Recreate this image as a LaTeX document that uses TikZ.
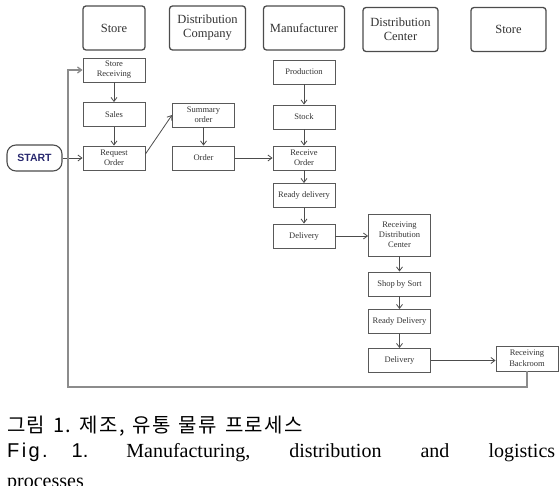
\documentclass[tikz,border=0pt]{standalone}
\usepackage{fontspec}
\setmainfont{Liberation Serif}
\newfontfamily\krfont{Noto Sans CJK KR}
\newfontfamily\sansf{Liberation Sans}
\usetikzlibrary{arrows.meta}
\begin{document}
\begin{tikzpicture}[x=1pt,y=-1pt,
  hdr/.style={draw=black!70, line width=1.3pt, rounded corners=3pt, minimum width=#1, minimum height=44pt, inner sep=1pt, align=center, text=black!80, font=\fontsize{12.5}{14}\selectfont},
  proc/.style={draw=black!65, line width=0.9pt, minimum width=62pt, minimum height=24pt, inner sep=0.5pt, align=center, text=black!80, font=\fontsize{8.5}{10}\selectfont},
  arr/.style={draw=black!70, line width=0.8pt, -{Straight Barb[length=4pt,width=6pt]}},
  loopline/.style={draw=black!45, line width=1.3pt, -{Straight Barb[length=4pt,width=6pt]}}
]
\useasboundingbox (0,0) rectangle (560,486);
% headers
\node[hdr=62pt] (h1) at (114,28) {Store};
\node[hdr=76pt] (h2) at (207.5,28) {Distribution\\Company};
\node[hdr=81pt] (h3) at (304,28) {Manufacturer};
\node[hdr=75pt] (h4) at (400.5,29.5) {Distribution\\Center};
\node[hdr=75pt] (h5) at (508.5,29.5) {Store};
% start
\node[draw=black!70, line width=1.1pt, rounded corners=9pt, minimum width=55pt, minimum height=26pt, inner sep=0pt, text={rgb,255:red,40;green,40;blue,110}, font=\sansf\bfseries\fontsize{10.5}{12}\selectfont] (start) at (34.5,158) {START};
% store column
\node[proc] (sr) at (114,70) {Store\\Receiving};
\node[proc] (sales) at (114,114.5) {Sales};
\node[proc] (req) at (114,158) {Request\\Order};
% distribution company column
\node[proc] (summ) at (203.5,115) {Summary\\order};
\node[proc] (ord) at (203.5,158) {Order};
% manufacturer column
\node[proc] (prod) at (304,72) {Production};
\node[proc] (stock) at (304,117) {Stock};
\node[proc] (recv) at (304,158) {Receive\\Order};
\node[proc] (ready) at (304,195.5) {Ready delivery};
\node[proc] (deliv) at (304,236) {Delivery};
% distribution center column
\node[proc, minimum height=42pt] (rdc) at (399.5,235) {Receiving\\Distribution\\Center};
\node[proc] (sort) at (399.5,284) {Shop by Sort};
\node[proc] (ready2) at (399.5,321.5) {Ready Delivery};
\node[proc] (deliv2) at (399.5,360.5) {Delivery};
% store 2
\node[proc, minimum height=25pt] (back) at (527,358.5) {Receiving\\[1pt]Backroom};
% arrows
\draw[arr] (sr) -- (sales);
\draw[arr] (sales) -- (req);
\draw[arr] (start) -- (req);
\draw[arr] ([yshift=4pt]req.east) -- (summ.west);
\draw[arr] (summ) -- (ord);
\draw[arr] (ord) -- (recv);
\draw[arr] (prod) -- (stock);
\draw[arr] (stock) -- (recv);
\draw[arr] (recv) -- (ready);
\draw[arr] (ready) -- (deliv);
\draw[arr] (deliv) -- (rdc.west |- deliv);
\draw[arr] (rdc) -- (sort);
\draw[arr] (sort) -- (ready2);
\draw[arr] (ready2) -- (deliv2);
\draw[arr] (deliv2) -- (back.west |- deliv2);
% feedback loop
\coordinate (lc) at (68,387);
\draw[loopline] (back.south) |- (lc) |- (sr.west);
% caption
\node[anchor=base west, inner sep=0pt] (kcap) at (7,432) {\krfont\fontsize{20}{22}\selectfont\addfontfeature{LetterSpace=7}그림\hspace{8pt}1.\hspace{8pt}제조,\hspace{8pt}유통\hspace{8pt}물류\hspace{8pt}프로세스};
\node[anchor=base west, inner sep=0pt] (ecap) at (7,457) {\fontsize{20}{24}\selectfont\makebox[548pt][l]{{\sansf\addfontfeature{LetterSpace=12}Fig.}\hspace{24pt}{\sansf 1.}\hspace{38pt}Manufacturing,\hfill distribution\hfill and\hfill logistics}};
\node[anchor=base west, inner sep=0pt] (ecap2) at (7,487) {\fontsize{20}{24}\selectfont processes};
\end{tikzpicture}
\end{document}
